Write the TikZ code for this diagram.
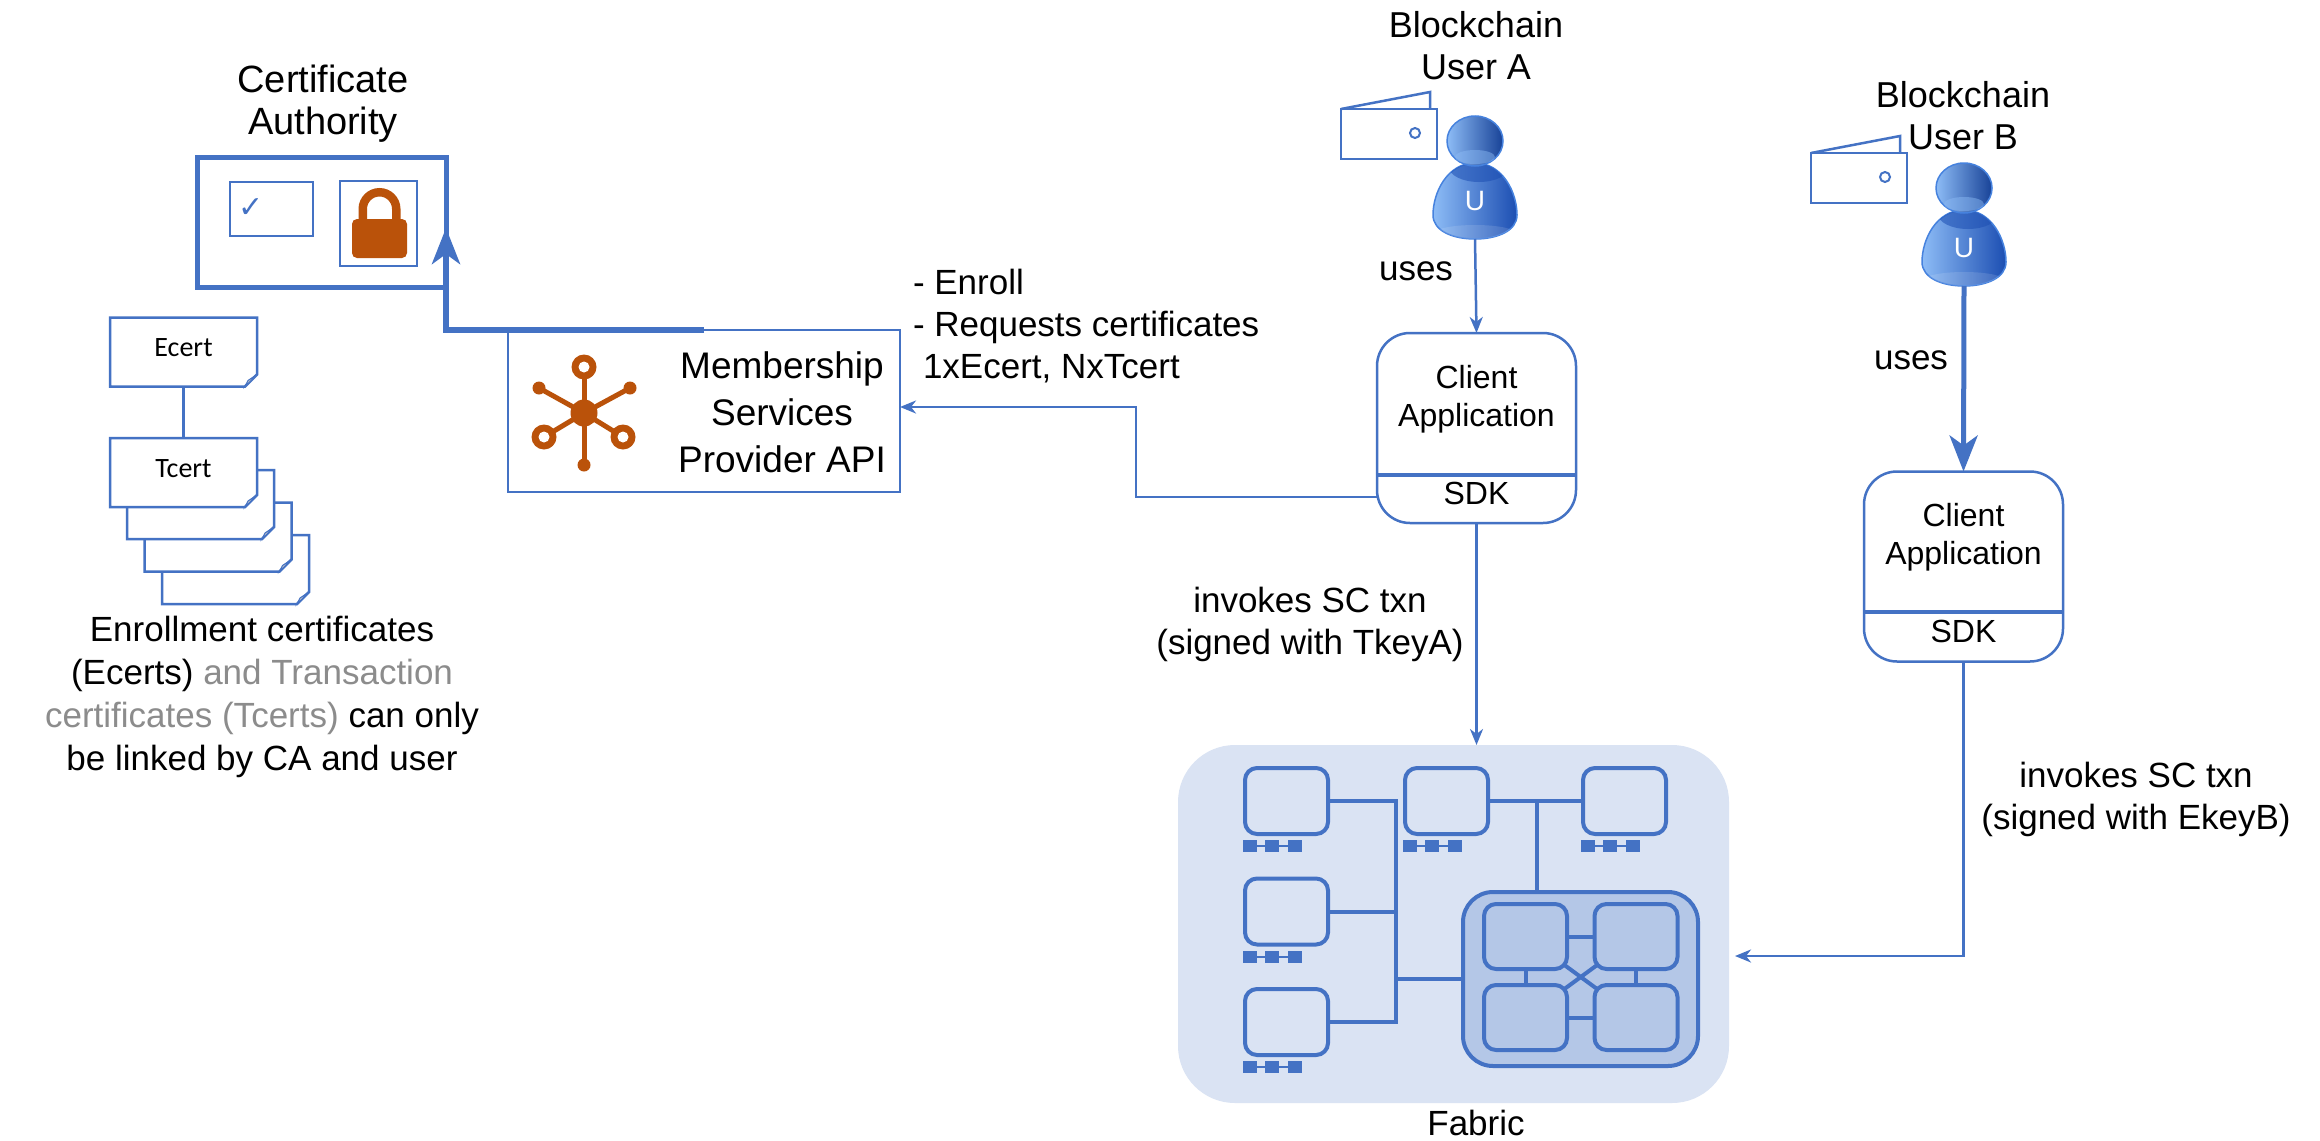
\documentclass[tikz,border=0pt]{standalone}
\usepackage{fontspec}
\setmainfont{Liberation Sans}
\newfontfamily\certfont{Carlito}
\newfontfamily\symbolfont{DejaVu Sans}
\usetikzlibrary{arrows.meta}

\definecolor{lineblue}{RGB}{68,114,196}
\definecolor{fabricbg}{RGB}{218,227,243}
\definecolor{clusterbg}{RGB}{180,199,231}
\definecolor{rust}{RGB}{186,82,10}
\definecolor{softgray}{RGB}{140,140,140}
\definecolor{userlight}{RGB}{141,188,246}
\definecolor{userdark}{RGB}{28,78,178}
\definecolor{useredge}{RGB}{70,130,222}

\tikzset{
  every node/.style={outer sep=0pt},
  txt/.style={font=\fontsize{35}{42}\selectfont, align=center, inner sep=0pt},
  bigtxt/.style={font=\fontsize{38}{42}\selectfont, align=center, inner sep=0pt},
  msptxt/.style={font=\fontsize{37}{47}\selectfont, align=center, inner sep=0pt},
  apptxt/.style={font=\fontsize{32}{38}\selectfont, align=center, inner sep=0pt},
  wire/.style={draw=lineblue, line width=2.5pt},
  wirearrow/.style={wire, -{Stealth[length=16pt,width=13pt,inset=5pt]}},
  heavyarrow/.style={draw=lineblue, line width=#1, -{Stealth[length=36pt,width=28pt,inset=10pt]}},
  appbox/.style={draw=lineblue, line width=2.5pt, rounded corners=33pt, minimum width=199pt, minimum height=190pt, inner sep=0pt, fill=white},
  docnode/.style={minimum width=147pt, minimum height=69pt, inner sep=0pt},
  doclabel/.style={inner sep=0pt, font=\certfont\fontsize{28}{30}\selectfont},
  docedge/.style={draw=lineblue, line width=2.5pt, fill=white, line join=miter},
  fabline/.style={draw=lineblue, line width=4pt},
  pcbox/.style={draw=lineblue, line width=4pt, fill=fabricbg, rounded corners=12pt, minimum width=83pt, minimum height=66pt, inner sep=0pt},
  qbox/.style={draw=lineblue, line width=4pt, fill=clusterbg, rounded corners=12pt, minimum width=83pt, minimum height=65pt, inner sep=0pt},
  % a networked computer with its row of ports underneath
  pics/pcunit/.style={code={
    \node[pcbox] (-box) at (0,0) {};
    \draw[lineblue, line width=2pt] (-29.5,45) -- (1.5,45);
    \fill[lineblue] (-43.5,39) rectangle (-29.5,51);
    \fill[lineblue] (-22,39) rectangle (-8,51);
    \fill[lineblue] (1.5,39) rectangle (15.5,51);
  }},
  % glossy user figure; origin at the top of the shoulders
  pics/personpic/.style={code={
    \path[left color=userlight, right color=userdark, draw=useredge, line width=1.5pt]
      (0,0) .. controls (-28,0) and (-42,30) .. (-42,52)
      .. controls (-42,68) and (-22,76) .. (0,76)
      .. controls (22,76) and (42,68) .. (42,52)
      .. controls (42,30) and (28,0) .. (0,0) -- cycle;
    \begin{scope}
      \clip (0,0) .. controls (-28,0) and (-42,30) .. (-42,52)
      .. controls (-42,68) and (-22,76) .. (0,76)
      .. controls (22,76) and (42,68) .. (42,52)
      .. controls (42,30) and (28,0) .. (0,0) -- cycle;
      \fill[userdark, opacity=0.55] (4,4) ellipse [x radius=30, y radius=15];
      \fill[white, opacity=0.12] (0,70) ellipse [x radius=40, y radius=8];
    \end{scope}
    \path[left color=userlight, right color=userdark!85!black, draw=useredge, line width=1.5pt]
      (0,-22) ellipse [x radius=28, y radius=25];
    \fill[userlight, opacity=0.45] (0,-6) ellipse [x radius=20, y radius=7];
    \node[inner sep=0pt, text=white, font=\fontsize{28}{30}\selectfont] (-mark) at (0,38) {U};
    \coordinate (-foot) at (0,76);
  }},
  % folded wallet
  pics/walletpic/.style={code={
    \draw[lineblue, line width=2.5pt] (0,0) rectangle (96,50);
    \draw[lineblue, line width=2.5pt, line join=miter] (0,0) -- (89,-17) -- (89,0);
    \draw[lineblue, line width=2pt] (74,24) circle [radius=5pt];
  }}
}

% certificate sheet with a dog-eared corner: name, x, y, text
\newcommand\docsheet[4]{%
  \node[docnode] (#1) at (#2,#3) {};
  \path[docedge] (#1.north west) -- (#1.north east) -- ([yshift=12pt]#1.south east)
    -- ([xshift=-12pt]#1.south east) -- (#1.south west) -- cycle;
  \filldraw[fill=gray!45, draw=lineblue, line width=1pt]
    ([yshift=12pt]#1.south east) -- ([xshift=-12pt]#1.south east) -- ([xshift=-9pt,yshift=6pt]#1.south east) -- cycle;
  \node[doclabel] (#1-text) at ([yshift=4pt]#1.center) {#4};
}

\begin{document}
\begin{tikzpicture}[x=1pt,y=-1pt]
\useasboundingbox (0,0) rectangle (2320,1140);
\fill[white] (0,0) rectangle (2320,1140);

% ---------- Certificate authority ----------
\node[bigtxt] (calabel) at (323,104) {Certificate\\Authority};
\node[draw=lineblue, line width=5pt, minimum width=249pt, minimum height=130pt, inner sep=0pt] (ca) at (321.5,222) {};
\node[draw=lineblue, line width=2pt, minimum width=83pt, minimum height=54pt, inner sep=0pt] (certcheck) at (271.5,209) {};
\node[inner sep=0pt, text=lineblue, font=\symbolfont\fontsize{30}{30}\selectfont] (tick) at (251,208) {✓};
\node[draw=lineblue, line width=2pt, minimum width=77pt, minimum height=85pt, inner sep=0pt] (lockframe) at (378.5,223.5) {};
\draw[rust, line width=8.5pt] (362.75,222) -- (362.75,209) arc[start angle=180, end angle=0, radius=16.75pt] -- (396.25,222);
\fill[rust, rounded corners=5pt] (352,219) rectangle (407,258);

% ---------- Membership services ----------
\node[draw=lineblue, line width=2.5pt, minimum width=392pt, minimum height=162pt, inner sep=0pt] (msp) at (704,411) {};
\node[msptxt] (msptext) at (782,412) {Membership\\Services\\Provider API};
\begin{scope}[shift={(584,413)}]
  \foreach \px/\py in {0/-46, -40/24, 39/24, -45/-25, 46/-25, 0/52}
    \draw[rust, line width=5pt] (0,0) -- (\px,\py);
  \fill[rust] (0,0) circle [radius=13.5pt];
  \foreach \px/\py in {0/-46, -40/24, 39/24} {
    \fill[rust] (\px,\py) circle [radius=12.5pt];
    \fill[white] (\px,\py) circle [radius=5.5pt];
  }
  \foreach \px/\py in {-45/-25, 46/-25, 0/52}
    \fill[rust] (\px,\py) circle [radius=6.5pt];
\end{scope}

\draw[heavyarrow=6pt] (msp.north) -- (msp.north -| ca.east) -- ([yshift=-6pt]ca.east);

\node[txt, align=left, anchor=west] (enrolltxt) at (913,326) {- Enroll\\- Requests certificates\\\hspace*{10pt}1xEcert, NxTcert};

% ---------- Certificates ----------
\docsheet{tback3}{235.5}{569.5}{}
\docsheet{tback2}{218}{537}{}
\docsheet{tback1}{200.5}{504.5}{}
\docsheet{tcert}{183.5}{472.5}{Tcert}
\docsheet{ecert}{183.5}{352}{Ecert}
\draw[wire] (ecert.south) -- (tcert.north);
\node[txt, font=\fontsize{35}{43}\selectfont] (caption) at (262,697)
  {Enrollment certificates\\(Ecerts) \textcolor{softgray}{and Transaction}\\\textcolor{softgray}{certificates (Tcerts)} can only\\be linked by CA and user};

% ---------- User A ----------
\node[txt, font=\fontsize{36}{42}\selectfont] (namea) at (1476,46) {Blockchain\\User A};
\pic (wala) at (1341,109) {walletpic};
\pic (usera) at (1475,163) {personpic};
\node[txt] (usesa) at (1416,271) {uses};
\node[appbox] (cla) at (1476.5,428) {};
\draw[lineblue, line width=4.5pt] (cla.west |- 0,475) -- (cla.east |- 0,475);
\node[apptxt] (clatxt) at (1476.5,399) {Client\\Application};
\node[apptxt] (clasdk) at (1476.5,493) {SDK};
\draw[wirearrow] (usera-foot) -- (cla.north);

% ---------- User B ----------
\node[txt, font=\fontsize{36}{42}\selectfont] (nameb) at (1963,116) {Blockchain\\User B};
\pic (walb) at (1811,153) {walletpic};
\pic (userb) at (1964,210) {personpic};
\node[txt] (usesb) at (1911,360) {uses};
\node[appbox] (clb) at (1963.5,566.5) {};
\draw[lineblue, line width=4.5pt] (clb.west |- 0,612) -- (clb.east |- 0,612);
\node[apptxt] (clbtxt) at (1963.5,537.5) {Client\\Application};
\node[apptxt] (clbsdk) at (1963.5,631) {SDK};
\draw[heavyarrow=5pt] (userb-foot) -- (clb.north);

% ---------- Fabric network ----------
\node[fill=fabricbg, rounded corners=57pt, minimum width=551pt, minimum height=358pt, inner sep=0pt] (fabric) at (1453.5,924) {};
\node[txt] (fabriclabel) at (1476,1123) {Fabric};

\pic (pc1) at (1286.5,801) {pcunit};
\pic (pc2) at (1286.5,911.5) {pcunit};
\pic (pc3) at (1286.5,1022) {pcunit};
\pic (pc4) at (1446.5,801) {pcunit};
\pic (pc5) at (1624.5,801) {pcunit};
\node[draw=lineblue, line width=4pt, fill=clusterbg, rounded corners=30pt, minimum width=235pt, minimum height=174pt, inner sep=0pt] (cluster) at (1580.5,979) {};

\draw[fabline] (pc1-box.east) -- (1396,801) -- (1396,1022) -- (pc3-box.east);
\draw[fabline] (pc2-box.east) -- (pc2-box.east -| 1396,0);
\draw[fabline] (cluster.west) -- (cluster.west -| 1396,0);
\draw[fabline] (pc4-box.east) -- (pc5-box.west);
\draw[fabline] (1537,801) -- (cluster.north -| 1537,0);

\draw[fabline] (1525.5,936.5) -- (1636,936.5);
\draw[fabline] (1525.5,1017.5) -- (1636,1017.5);
\draw[fabline] (1525.5,936.5) -- (1525.5,1017.5);
\draw[fabline] (1636,936.5) -- (1636,1017.5);
\draw[fabline] (1525.5,936.5) -- (1636,1017.5);
\draw[fabline] (1636,936.5) -- (1525.5,1017.5);
\node[qbox] (qtl) at (1525.5,936.5) {};
\node[qbox] (qtr) at (1636,936.5) {};
\node[qbox] (qbl) at (1525.5,1017.5) {};
\node[qbox] (qbr) at (1636,1017.5) {};

% ---------- Transactions ----------
\draw[wirearrow] (cla.south) -- (cla.south |- fabric.north);
\node[txt] (invokea) at (1310,624) {invokes SC txn\\(signed with TkeyA)};
\draw[wirearrow] (clb.south) |- ([xshift=6pt,yshift=-32pt]fabric.east);
\node[txt] (invokeb) at (2136,799) {invokes SC txn\\(signed with EkeyB)};
\draw[wirearrow] ([yshift=-69pt]cla.west) -- ++(-241,0) |- ([yshift=4pt]msp.east);
\end{tikzpicture}
\end{document}
